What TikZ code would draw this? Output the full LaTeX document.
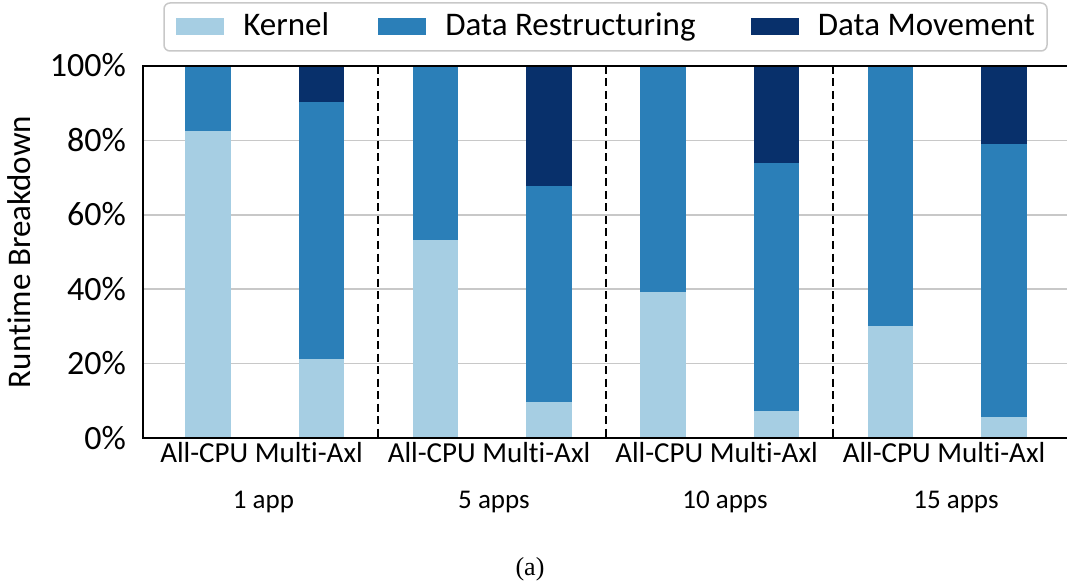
\documentclass[tikz,border=0pt]{standalone}
\usepackage{fontspec}
\setmainfont{Carlito}[Ligatures=NoCommon]
\newfontfamily\capfont{Liberation Serif}
\usepackage{tikz}
\usetikzlibrary{positioning,calc}
\definecolor{kernelc}{HTML}{A6CEE3}
\definecolor{restrc}{HTML}{2B7FB8}
\definecolor{movec}{HTML}{08306B}
\definecolor{gridc}{HTML}{C8C8C8}
\tikzstyle{kernel}=[fill=kernelc]
\tikzstyle{restr}=[fill=restrc]
\tikzstyle{movem}=[fill=movec]
\tikzstyle{gridline}=[draw=gridc, line width=1.5pt]
\tikzstyle{axisline}=[draw=black, line width=2pt]
\tikzstyle{groupsep}=[draw=black, line width=2.2pt, dash pattern=on 8pt off 4.5pt]
\tikzstyle{legendbox}=[draw=gridc, line width=1.5pt, rounded corners=6pt, minimum width=883pt, minimum height=48pt]
\tikzstyle{swatch}=[minimum width=48pt, minimum height=17pt, inner sep=0pt]
\tikzstyle{legtext}=[font=\fontsize{33}{38}\selectfont, inner sep=0pt, anchor=base west]
\tikzstyle{ticklab}=[font=\fontsize{34}{40}\selectfont, inner sep=0pt, anchor=base east]
\tikzstyle{ylab}=[font=\fontsize{33}{40}\selectfont, inner sep=0pt, anchor=base, rotate=90]
\tikzstyle{xlab}=[font=\fontsize{29}{34}\selectfont, inner sep=0pt, anchor=base]
\tikzstyle{grouplab}=[font=\fontsize{27}{32}\selectfont, inner sep=0pt, anchor=base]
\tikzstyle{caption}=[font=\capfont\fontsize{26}{30}\selectfont, inner sep=0pt, anchor=base]
% one stacked bar: left edge, top of kernel, top of restructuring (in %)
\newcommand{\stackbar}[3]{%
	\path[kernel] (#1,438) rectangle ({#1+45.5},{438-3.72*#2});
	\path[restr] (#1,{438-3.72*#2}) rectangle ({#1+45.5},{438-3.72*#3});
	\path[movem] (#1,{438-3.72*#3}) rectangle ({#1+45.5},66);}
\newcommand{\legentry}[4]{%
	\node (s#1)[swatch,#2] at (#3,26.5) {};
	\path (s#1.east)+(19,9.5) node (l#1)[legtext]{#4};}

\begin{document}
\begin{tikzpicture}[x=1pt,y=-1pt]
	\useasboundingbox (0,0) rectangle (1067,585);
	
	% Draw grid lines
	\foreach \p in {20,40,...,80}
		\path[gridline] (143,{438-3.72*\p}) -- (1067,{438-3.72*\p});
	
	% Draw bars
	\stackbar{185}{82.6}{100}
	\stackbar{298.75}{21.2}{90.4}
	\stackbar{412.5}{53.2}{100}
	\stackbar{526.25}{9.8}{67.7}
	\stackbar{640}{39.2}{100}
	\stackbar{753.75}{7.3}{73.9}
	\stackbar{867.5}{30.2}{100}
	\stackbar{981.25}{5.7}{79.1}
	
	% Draw axes and group separators
	\path[axisline] (1067,66) -- (143,66) -- (143,438) -- (1067,438);
	\foreach \x in {378,606,833}
		\path[groupsep] (\x,66) -- (\x,438);
	
	% Tick labels and axis title
	\foreach \p in {0,20,...,100}
		\node (t\p)[ticklab] at (126,{438-3.72*\p+11}) {\p\%};
	\node (yl)[ylab] at (30,252) {Runtime Breakdown};
	\foreach \c [count=\i] in {261.5,489,716.5,944}
		\node (x\i)[xlab] at (\c,462) {All-CPU Multi-Axl};
	\foreach \c/\t [count=\i] in {263.5/1 app,494/5 apps,725/10 apps,956/15 apps}
		\node (g\i)[grouplab] at (\c,508) {\t};
	
	% Legend
	\node (legend)[legendbox] at (605.5,27) {};
	\legentry{k}{kernel}{200}{Kernel}
	\legentry{r}{restr}{402}{Data Restructuring}
	\legentry{m}{movem}{774.5}{Data Movement}
	
	\node (cap)[caption] at (530,575) {(a)};
	
\end{tikzpicture}
\end{document}
